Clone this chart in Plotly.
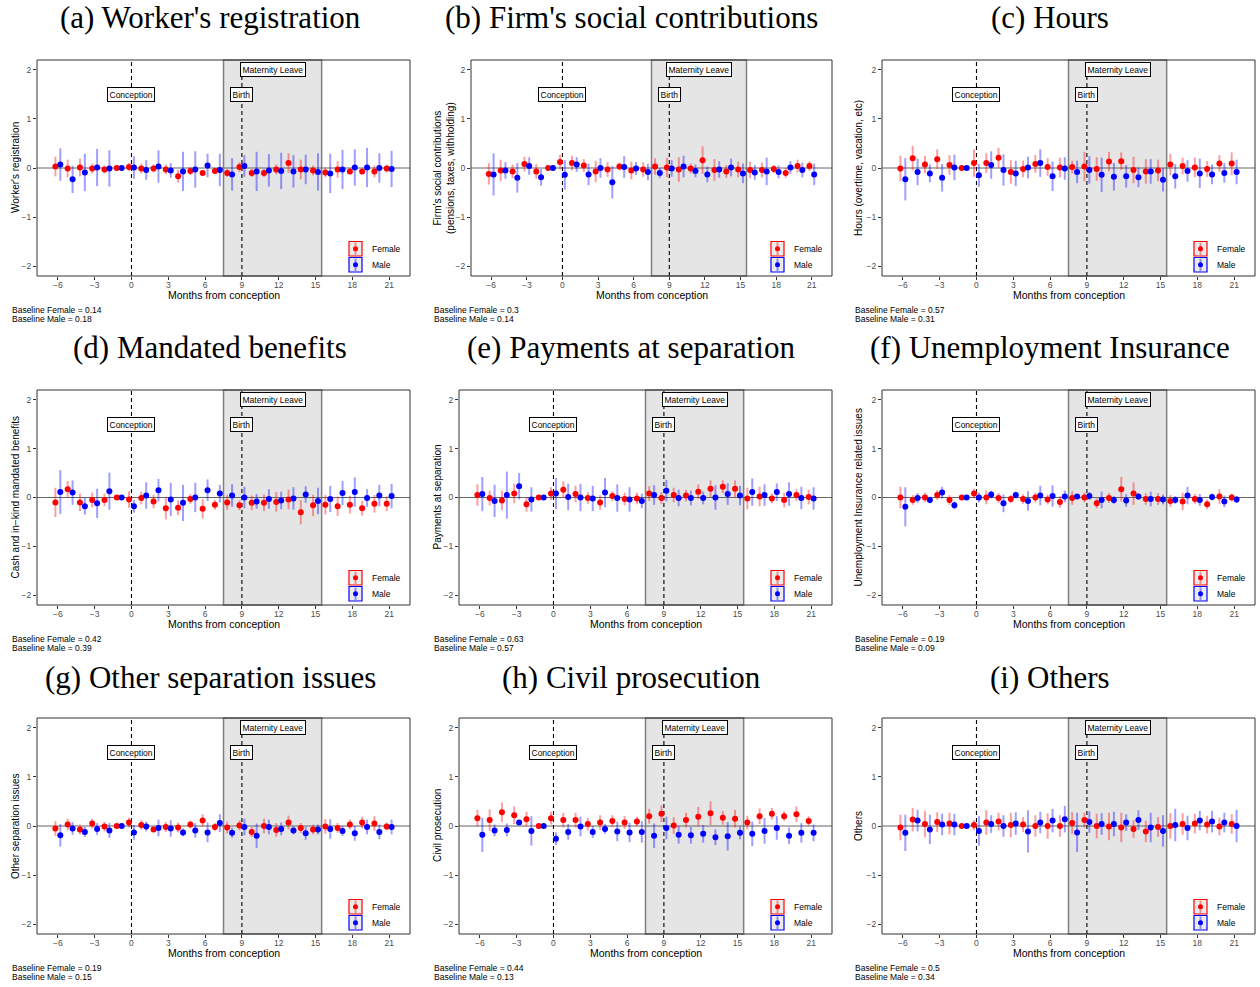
import plotly.graph_objects as go

months = list(range(-6, 22))

titles = ["(a) Worker's registration", "(b) Firm's social contributions", "(c) Hours",
          "(d) Mandated benefits", "(e) Payments at separation", "(f) Unemployment Insurance",
          "(g) Other separation issues", "(h) Civil prosecution", "(i) Others"]
ylabels = ["Worker's registration",
           "Firm's social contributions<br>(pensions, taxes, withholding)",
           "Hours (overtime, vacation, etc)",
           "Cash and in\u2212kind mandated benefits",
           "Payments at separation",
           "Unemployment Insurance related issues",
           "Other separation issues",
           "Civil prosecution",
           "Others"]
base_female = [0.14, 0.3, 0.57, 0.42, 0.63, 0.19, 0.19, 0.44, 0.5]
base_male = [0.18, 0.14, 0.31, 0.39, 0.57, 0.09, 0.15, 0.13, 0.34]

# (a) Worker's registration
a_female = [0.03, -0.01, 0.01, -0.01, -0.03, 0, 0.02, -0.01, -0.01, -0.03, -0.17, -0.06, -0.10, -0.06,
            -0.10, 0.02, -0.10, -0.10, -0.03, 0.10, -0.03, -0.05, -0.09, -0.03, -0.07, -0.07, -0.07, -0.01]
a_female_ci = [0.20, 0.18, 0.18, 0.10, 0.08, 0, 0.08, 0.10, 0.08, 0.10, 0.13, 0.08, 0.06, 0.05,
               0.08, 0.10, 0.08, 0.08, 0.10, 0.20, 0.20, 0.10, 0.10, 0.17, 0.06, 0.06, 0.12, 0.08]
a_male = [0.07, -0.23, -0.09, 0.01, -0.01, 0, 0.01, -0.04, 0.03, -0.05, -0.07, -0.03, 0.05, -0.04,
          -0.13, 0.04, -0.07, -0.05, -0.06, -0.07, -0.03, -0.08, -0.11, -0.03, 0.01, 0.01, 0.0, -0.02]
a_male_ci = [0.33, 0.28, 0.38, 0.38, 0.37, 0, 0.23, 0.20, 0.33, 0.15, 0.40, 0.37, 0.24, 0.33,
             0.33, 0.22, 0.40, 0.33, 0.37, 0.33, 0.30, 0.38, 0.40, 0.40, 0.37, 0.40, 0.30, 0.37]

# (b) Firm's social contributions
b_female = [-0.12, -0.05, -0.07, 0.08, -0.07, 0, 0.12, 0.10, 0.05, -0.07, -0.03, 0.03, -0.05, -0.03,
            0.03, 0.01, -0.03, -0.01, 0.16, -0.04, -0.07, -0.03, -0.04, -0.04, -0.02, -0.10, 0.04, 0.04]
b_female_ci = [0.22, 0.22, 0.14, 0.15, 0.15, 0, 0.15, 0.15, 0.13, 0.22, 0.15, 0.08, 0.18, 0.15,
               0.17, 0.20, 0.25, 0.10, 0.28, 0.22, 0.13, 0.16, 0.17, 0.15, 0.08, 0.10, 0.13, 0.10]
b_male = [-0.13, -0.05, -0.20, 0.04, -0.19, 0, -0.14, 0.07, -0.13, 0.0, -0.29, 0.02, -0.01, -0.08,
          -0.10, -0.01, 0.03, -0.06, -0.13, -0.03, 0.01, -0.11, -0.09, -0.07, -0.08, 0.01, -0.04, -0.13]
b_male_ci = [0.43, 0.17, 0.30, 0.18, 0.17, 0, 0.30, 0.15, 0.22, 0.20, 0.33, 0.22, 0.13, 0.17,
             0.10, 0.17, 0.22, 0.13, 0.16, 0.17, 0.18, 0.20, 0.15, 0.28, 0.13, 0.13, 0.15, 0.22]

# (c) Hours
c_female = [-0.01, 0.20, 0.07, 0.18, 0.06, 0, 0.10, 0.10, 0.21, -0.08, -0.02, 0.08, 0.02, 0.01,
            0.02, 0.03, -0.02, 0.13, 0.14, -0.04, -0.07, -0.05, 0.07, 0.04, 0.01, -0.02, 0.09, 0.09]
c_female_ci = [0.26, 0.25, 0.18, 0.20, 0.20, 0, 0.28, 0.20, 0.20, 0.24, 0.17, 0.18, 0.18, 0.20,
               0.13, 0.30, 0.24, 0.20, 0.18, 0.27, 0.25, 0.22, 0.22, 0.17, 0.20, 0.16, 0.17, 0.23]
c_male = [-0.23, -0.08, -0.11, -0.20, 0.01, 0, -0.15, 0.06, -0.04, -0.11, 0.01, 0.10, -0.17, -0.01,
          -0.08, -0.04, -0.14, -0.18, -0.17, -0.19, -0.07, -0.24, -0.17, -0.06, -0.11, -0.13, -0.10, -0.08]
c_male_ci = [0.43, 0.27, 0.18, 0.28, 0.26, 0, 0.23, 0.28, 0.32, 0.26, 0.22, 0.28, 0.30, 0.23,
             0.23, 0.28, 0.35, 0.28, 0.23, 0.20, 0.25, 0.24, 0.25, 0.22, 0.30, 0.20, 0.20, 0.25]

# (d) Mandated benefits
d_female = [-0.10, 0.17, -0.10, -0.05, -0.05, 0, -0.04, -0.01, -0.08, -0.22, -0.21, -0.03, -0.23, -0.15,
            -0.10, -0.16, -0.11, -0.11, -0.09, -0.04, -0.30, -0.16, -0.15, -0.18, -0.15, -0.22, -0.13, -0.13]
d_female_ci = [0.30, 0.17, 0.18, 0.15, 0.13, 0, 0.17, 0.13, 0.14, 0.23, 0.15, 0.10, 0.20, 0.10,
               0.15, 0.10, 0.15, 0.17, 0.20, 0.20, 0.25, 0.22, 0.20, 0.20, 0.18, 0.15, 0.18, 0.15]
d_male = [0.11, 0.10, -0.18, -0.12, 0.13, 0, -0.18, 0.04, 0.15, -0.04, -0.11, 0.0, 0.15, 0.08,
          0.04, 0.0, -0.08, -0.03, -0.06, -0.02, 0.06, -0.07, -0.03, 0.09, 0.11, -0.01, 0.04, 0.03]
d_male_ci = [0.45, 0.25, 0.17, 0.30, 0.38, 0, 0.13, 0.27, 0.23, 0.34, 0.37, 0.30, 0.22, 0.18,
             0.23, 0.22, 0.15, 0.20, 0.18, 0.23, 0.17, 0.27, 0.27, 0.25, 0.30, 0.18, 0.22, 0.25]

# (e) Payments at separation
e_female = [0.05, -0.01, -0.06, 0.08, -0.14, 0, 0.08, 0.16, 0.07, -0.01, -0.10, 0.03, -0.03, -0.02,
            0.08, -0.01, 0.05, 0.04, 0.12, 0.18, 0.22, 0.18, -0.02, 0.02, -0.02, -0.05, 0.05, 0.01]
e_female_ci = [0.22, 0.15, 0.20, 0.20, 0.15, 0, 0.13, 0.17, 0.17, 0.12, 0.15, 0.10, 0.13, 0.12,
               0.15, 0.12, 0.15, 0.12, 0.15, 0.17, 0.13, 0.17, 0.22, 0.20, 0.10, 0.15, 0.12, 0.15]
e_male = [0.07, -0.07, 0.05, 0.23, -0.04, 0, 0.08, 0.01, 0.0, -0.02, 0.10, -0.01, -0.04, -0.07,
          0.05, 0.14, -0.01, -0.01, -0.01, 0.0, 0.07, 0.04, 0.11, 0.05, 0.11, 0.07, -0.01, -0.02]
e_male_ci = [0.35, 0.33, 0.48, 0.27, 0.25, 0, 0.32, 0.27, 0.28, 0.26, 0.30, 0.28, 0.25, 0.15,
             0.20, 0.22, 0.17, 0.15, 0.13, 0.25, 0.22, 0.20, 0.28, 0.22, 0.18, 0.24, 0.23, 0.23]

# (f) Unemployment Insurance
f_female = [0.0, -0.05, 0.0, 0.05, -0.05, 0, 0.08, 0.0, -0.01, -0.03, -0.03, 0.0, -0.04, -0.09,
            -0.01, 0.0, -0.12, -0.01, 0.17, 0.08, -0.03, -0.03, -0.07, -0.08, -0.03, -0.14, 0.02, 0.0]
f_female_ci = [0.22, 0.10, 0.10, 0.10, 0.10, 0, 0.10, 0.14, 0.10, 0.08, 0.10, 0.10, 0.10, 0.12,
               0.14, 0.10, 0.10, 0.10, 0.25, 0.23, 0.12, 0.12, 0.12, 0.18, 0.10, 0.10, 0.15, 0.08]
f_male = [-0.19, -0.01, -0.05, 0.10, -0.16, 0, 0.0, 0.06, -0.12, 0.05, -0.07, 0.04, 0.03, 0.02,
          0.02, 0.03, -0.05, -0.05, -0.06, 0.02, -0.03, -0.04, -0.05, 0.04, -0.05, 0.01, -0.08, -0.04]
f_male_ci = [0.40, 0.10, 0.07, 0.12, 0.08, 0, 0.10, 0.08, 0.18, 0.07, 0.20, 0.20, 0.22, 0.12,
             0.05, 0.08, 0.17, 0.08, 0.13, 0.07, 0.15, 0.10, 0.08, 0.18, 0.12, 0.07, 0.12, 0.07]

# (g) Other separation issues
g_female = [-0.05, 0.03, -0.07, 0.05, -0.01, 0, 0.07, 0.02, -0.07, -0.02, -0.03, 0.03, 0.11, -0.02,
            -0.03, 0.01, -0.12, 0.0, -0.08, 0.07, -0.04, -0.07, -0.01, -0.04, 0.03, 0.07, 0.05, -0.01]
g_female_ci = [0.15, 0.12, 0.10, 0.10, 0.10, 0, 0.10, 0.10, 0.05, 0.10, 0.10, 0.08, 0.13, 0.08,
               0.12, 0.10, 0.10, 0.15, 0.14, 0.14, 0.10, 0.10, 0.15, 0.10, 0.10, 0.12, 0.15, 0.08]
g_male = [-0.19, -0.05, -0.12, -0.06, -0.09, 0, -0.13, -0.01, -0.04, -0.05, -0.13, -0.09, -0.13, 0.06,
          -0.14, -0.02, -0.20, -0.02, -0.06, -0.09, -0.15, -0.07, -0.06, -0.10, -0.15, -0.02, -0.12, -0.02]
g_male_ci = [0.23, 0.13, 0.10, 0.12, 0.15, 0, 0.15, 0.10, 0.17, 0.17, 0.08, 0.15, 0.20, 0.18,
             0.10, 0.17, 0.25, 0.15, 0.13, 0.08, 0.13, 0.10, 0.20, 0.10, 0.15, 0.15, 0.15, 0.15]

# (h) Civil prosecution
h_female = [0.16, 0.12, 0.28, 0.22, 0.14, 0, 0.16, 0.12, 0.12, 0.04, 0.07, 0.10, 0.07, 0.09,
            0.20, 0.25, 0.01, 0.12, 0.19, 0.26, 0.17, 0.15, 0.07, 0.20, 0.25, 0.20, 0.24, 0.10]
h_female_ci = [0.17, 0.22, 0.20, 0.18, 0.15, 0, 0.13, 0.15, 0.15, 0.13, 0.15, 0.12, 0.13, 0.10,
               0.15, 0.17, 0.17, 0.15, 0.20, 0.24, 0.14, 0.18, 0.14, 0.16, 0.12, 0.10, 0.16, 0.10]
h_male = [-0.18, -0.09, -0.08, 0.07, -0.10, 0, -0.26, -0.12, -0.01, -0.12, -0.06, -0.11, -0.13, -0.12,
          -0.20, -0.04, -0.18, -0.19, -0.16, -0.23, -0.21, -0.14, -0.16, -0.10, -0.04, -0.20, -0.14, -0.14]
h_male_ci = [0.35, 0.12, 0.13, 0.05, 0.30, 0, 0.13, 0.16, 0.20, 0.12, 0.10, 0.20, 0.20, 0.22,
             0.25, 0.23, 0.18, 0.17, 0.18, 0.16, 0.29, 0.13, 0.25, 0.26, 0.24, 0.17, 0.20, 0.17]

# (i) Others
i_female = [-0.03, 0.13, 0.04, 0.08, 0.05, 0, 0.02, 0.07, 0.09, 0.02, 0.03, 0.0, 0.0, 0.0,
            0.06, 0.12, 0.0, -0.01, -0.03, -0.06, -0.11, -0.02, 0.0, 0.04, 0.05, 0.03, -0.01, 0.04]
i_female_ci = [0.26, 0.24, 0.27, 0.20, 0.22, 0, 0.10, 0.25, 0.18, 0.25, 0.15, 0.22, 0.26, 0.22,
               0.22, 0.15, 0.25, 0.28, 0.30, 0.18, 0.22, 0.20, 0.26, 0.22, 0.20, 0.18, 0.18, 0.20]
i_male = [-0.14, 0.11, -0.07, 0.03, 0.03, 0, -0.10, 0.04, 0.0, 0.05, -0.11, 0.07, 0.11, 0.14,
          -0.13, 0.08, 0.04, 0.04, 0.07, 0.12, -0.03, -0.10, 0.02, -0.04, 0.11, 0.09, 0.07, 0.0]
i_male_ci = [0.37, 0.22, 0.30, 0.22, 0.22, 0, 0.30, 0.18, 0.22, 0.23, 0.43, 0.22, 0.24, 0.27,
             0.40, 0.22, 0.22, 0.25, 0.17, 0.20, 0.30, 0.32, 0.33, 0.25, 0.20, 0.22, 0.20, 0.33]

female_vals = [a_female, b_female, c_female, d_female, e_female, f_female, g_female, h_female, i_female]
female_cis = [a_female_ci, b_female_ci, c_female_ci, d_female_ci, e_female_ci, f_female_ci,
              g_female_ci, h_female_ci, i_female_ci]
male_vals = [a_male, b_male, c_male, d_male, e_male, f_male, g_male, h_male, i_male]
male_cis = [a_male_ci, b_male_ci, c_male_ci, d_male_ci, e_male_ci, f_male_ci, g_male_ci, h_male_ci, i_male_ci]

xticks = list(range(-6, 22, 3))
yticks = [-2, -1, 0, 1, 2]
leave_start, leave_end = 7.5, 15.5
conception_month, birth_month = 0, 9

# ---- layout geometry (pixels) ----
W, H = 1260, 987
lefts = [[37, 471, 882], [37, 459, 882], [37, 459, 882]]
rights = [410, 832, 1255]
tops = [60, 390, 718]
bots = [276, 605, 934]
title_cx = [210, 631, 1050]
title_cy = [18, 348, 677]
ytitle_x = [[15, 444, 858], [15, 437, 858], [15, 437, 858]]
base_x = [10, 432, 853]

SANS = "Liberation Sans, Arial, sans-serif"
SERIF = "Liberation Serif, Times New Roman, serif"


def px(x):
    return x / W


def py(y):
    return 1 - y / H


fig = go.Figure()
shapes = []
annotations = []
layout = {}

for i in range(9):
    r, c = divmod(i, 3)
    k = i + 1
    xa = "x" if k == 1 else f"x{k}"
    ya = "y" if k == 1 else f"y{k}"
    L, R, T, B = lefts[r][c], rights[c], tops[r], bots[r]

    layout["xaxis" if k == 1 else f"xaxis{k}"] = dict(
        domain=[px(L), px(R)], range=[-7.7, 22.7], anchor=ya,
        tickvals=xticks, ticks="outside", ticklen=3, tickcolor="#333333", tickwidth=1,
        ticklabelstandoff=-2,
        tickfont=dict(size=8.5, color="#4d4d4d", family=SANS),
        showgrid=False, zeroline=False, showline=False, fixedrange=True)
    layout["yaxis" if k == 1 else f"yaxis{k}"] = dict(
        domain=[py(B), py(T)], range=[-2.2, 2.2], anchor=xa,
        tickvals=yticks, ticks="outside", ticklen=3, tickcolor="#333333", tickwidth=1,
        tickfont=dict(size=8.5, color="#4d4d4d", family=SANS),
        showgrid=False, zeroline=False, showline=False, fixedrange=True)

    # maternity leave shading
    shapes.append(dict(type="rect", xref=xa, yref=f"{ya} domain", x0=leave_start, x1=leave_end,
                       y0=0, y1=1, fillcolor="#e5e5e5", line=dict(color="#7f7f7f", width=1.5),
                       layer="below"))
    # zero line
    shapes.append(dict(type="line", xref=f"{xa} domain", yref=ya, x0=0, x1=1, y0=0, y1=0,
                       line=dict(color="#666666", width=1), layer="below"))
    # conception / birth lines
    for xm in (conception_month, birth_month):
        shapes.append(dict(type="line", xref=xa, yref=f"{ya} domain", x0=xm, x1=xm, y0=0, y1=1,
                           line=dict(color="black", width=1.1, dash="4px,3px"), layer="below"))
    # panel border
    shapes.append(dict(type="rect", xref=f"{xa} domain", yref=f"{ya} domain", x0=0, x1=1, y0=0, y1=1,
                       line=dict(color="#333333", width=1), fillcolor="rgba(0,0,0,0)", layer="above"))

    # traces
    fig.add_trace(go.Scatter(
        x=[m - 0.2 for m in months], y=female_vals[i], mode="markers", xaxis=xa, yaxis=ya,
        marker=dict(color="#ff0000", size=6),
        error_y=dict(type="data", array=female_cis[i], symmetric=True, width=0, thickness=2,
                     color="rgba(255,0,0,0.38)"),
        name="Female", showlegend=False))
    fig.add_trace(go.Scatter(
        x=[m + 0.2 for m in months], y=male_vals[i], mode="markers", xaxis=xa, yaxis=ya,
        marker=dict(color="#0000ff", size=6),
        error_y=dict(type="data", array=male_cis[i], symmetric=True, width=0, thickness=2,
                     color="rgba(0,0,255,0.38)"),
        name="Male", showlegend=False))

    # event labels
    for txt, xm, ym in (("Conception", conception_month, 1.5), ("Birth", birth_month, 1.5),
                        ("Maternity Leave", 11.5, 2.0)):
        annotations.append(dict(text=txt, x=xm, y=ym, xref=xa, yref=ya, showarrow=False,
                                font=dict(size=8.5, color="black", family=SANS),
                                bgcolor="white", bordercolor="black", borderwidth=1, borderpad=1.5))

    # panel title
    annotations.append(dict(text=titles[i], x=px(title_cx[c]), y=py(title_cy[r]), xref="paper",
                            yref="paper", showarrow=False, xanchor="center", yanchor="middle",
                            font=dict(size=31, color="black", family=SERIF)))
    # y title
    annotations.append(dict(text=ylabels[i], x=px(ytitle_x[r][c]), y=py((T + B) / 2), xref="paper",
                            yref="paper", showarrow=False, textangle=-90, xanchor="center",
                            yanchor="middle", font=dict(size=10, color="black", family=SANS)))
    # x title
    annotations.append(dict(text="Months from conception", x=px((L + R) / 2), y=py(B + 19),
                            xref="paper", yref="paper", showarrow=False, xanchor="center",
                            yanchor="middle", font=dict(size=10.5, color="black", family=SANS)))
    # baseline text
    annotations.append(dict(text=f"Baseline Female = {base_female[i]}", x=px(base_x[c]), y=py(B + 34),
                            xref="paper", yref="paper", showarrow=False, xanchor="left",
                            yanchor="middle", font=dict(size=8.5, color="black", family=SANS)))
    annotations.append(dict(text=f"Baseline Male = {base_male[i]}", x=px(base_x[c]), y=py(B + 43),
                            xref="paper", yref="paper", showarrow=False, xanchor="left",
                            yanchor="middle", font=dict(size=8.5, color="black", family=SANS)))

    # legend keys
    for lab, col, alpha_col, y0, y1 in (("Female", "#ff0000", "rgba(255,0,0,0.4)", B - 34.5, B - 20),
                                        ("Male", "#0000ff", "rgba(0,0,255,0.4)", B - 18.5, B - 4)):
        x0, x1 = R - 61, R - 48
        shapes.append(dict(type="rect", xref="paper", yref="paper", x0=px(x0), x1=px(x1),
                           y0=py(y1), y1=py(y0), fillcolor="#ebebeb", line=dict(color=col, width=1.2)))
        cx, cy = (x0 + x1) / 2, (y0 + y1) / 2
        shapes.append(dict(type="line", xref="paper", yref="paper", x0=px(cx), x1=px(cx),
                           y0=py(y1 - 1), y1=py(y0 + 1), line=dict(color=alpha_col, width=2)))
        shapes.append(dict(type="circle", xref="paper", yref="paper", x0=px(cx - 2.5), x1=px(cx + 2.5),
                           y0=py(cy + 2.5), y1=py(cy - 2.5), fillcolor=col, line=dict(width=0)))
        annotations.append(dict(text=lab, x=px(R - 40), y=py(cy), xref="paper", yref="paper",
                                showarrow=False, xanchor="left", yanchor="middle",
                                font=dict(size=8.5, color="black", family=SANS)))

fig.update_layout(
    width=W, height=H, margin=dict(l=0, r=0, t=0, b=0),
    paper_bgcolor="white", plot_bgcolor="white",
    shapes=shapes, annotations=annotations, showlegend=False, **layout)

fig.write_html("out.html", config={"displayModeBar": False})
